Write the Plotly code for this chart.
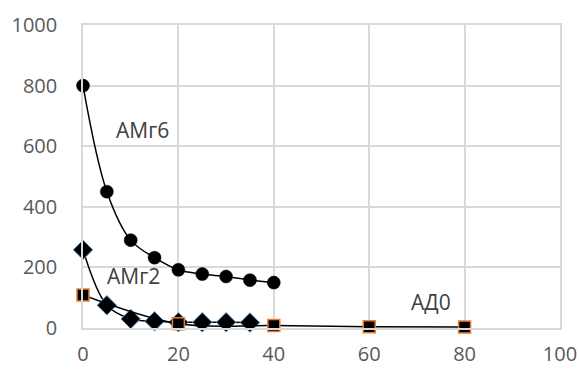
import plotly.graph_objects as go

x_amg6 = [0, 5, 10, 15, 20, 25, 30, 35, 40]
y_amg6 = [800, 450, 290, 232, 192, 178, 170, 158, 150]

x_amg2 = [0, 5, 10, 15, 20, 25, 30, 35]
y_amg2 = [258, 75, 30, 22, 19, 19, 19, 18]

x_ad0 = [0, 20, 40, 60, 80]
y_ad0 = [109, 14, 8, 4, 3]

labels = [("АМг6", 12.5, 655), ("АМг2", 10.5, 170), ("АД0", 73, 86)]

font = "Open Sans"
fig = go.Figure()
fig.add_trace(go.Scatter(
    x=x_amg2, y=y_amg2, mode="lines+markers", cliponaxis=False,
    line=dict(color="black", width=1.5, shape="spline", smoothing=1),
    marker=dict(symbol="diamond", size=15, color="black", line=dict(color="#5B9BD5", width=1)),
))
fig.add_trace(go.Scatter(
    x=x_ad0, y=y_ad0, mode="lines+markers", cliponaxis=False,
    line=dict(color="black", width=1.5, shape="spline", smoothing=1),
    marker=dict(symbol="square", size=12, color="black", line=dict(color="#ED7D31", width=1.5)),
))
fig.add_trace(go.Scatter(
    x=x_amg6, y=y_amg6, mode="lines+markers", cliponaxis=False,
    line=dict(color="black", width=1.5, shape="spline", smoothing=1),
    marker=dict(symbol="circle", size=13, color="black", line=dict(color="black", width=0.5)),
))

for t, xx, yy in labels:
    fig.add_annotation(x=xx, y=yy, text=t, showarrow=False,
                       font=dict(family=font, size=21, color="#404040"))

fig.update_layout(
    width=579, height=370,
    margin=dict(l=83, r=19, t=25, b=42),
    paper_bgcolor="white", plot_bgcolor="white",
    showlegend=False,
    font=dict(family=font, size=20, color="#595959"),
)
fig.update_xaxes(range=[0, 100], dtick=20, showgrid=True, gridcolor="#d9d9d9", gridwidth=1.5,
                 zeroline=False, showline=True, linecolor="#d9d9d9", linewidth=1.5, mirror=True,
                 automargin=False,
                 ticklabelstandoff=7, tickfont=dict(size=20, color="#595959"))
fig.update_yaxes(range=[0, 1000], dtick=200, showgrid=True, gridcolor="#d9d9d9", gridwidth=1.5,
                 zeroline=False, showline=True, linecolor="#d9d9d9", linewidth=1.5, mirror=True,
                 automargin=False,
                 ticklabelstandoff=20, tickfont=dict(size=20, color="#595959"))

fig.write_html("out.html")
